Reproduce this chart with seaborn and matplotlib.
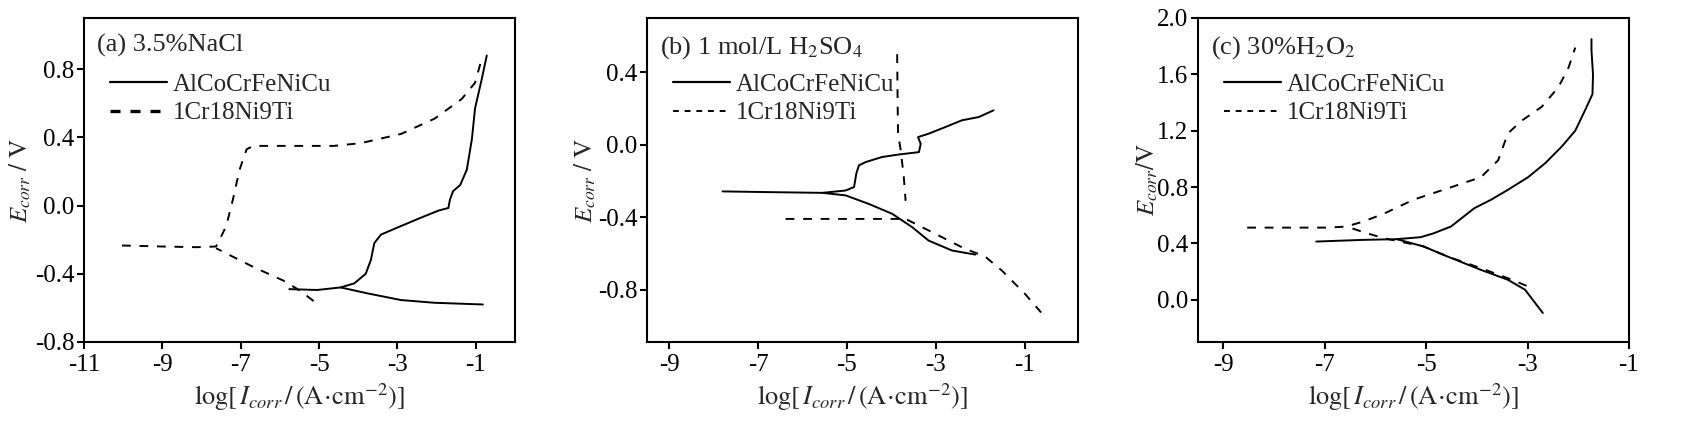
import pandas as pd
import matplotlib.pyplot as plt
import seaborn as sns
from matplotlib.lines import Line2D

# ---- data (log i, E) ----
# (a) 3.5% NaCl
a_alloy_cath_x = [-0.82, -2.05, -2.91, -3.76, -4.45]
a_alloy_cath_y = [-0.58, -0.57, -0.554, -0.515, -0.48]
a_alloy_anod_x = [-5.76, -5.05, -4.45, -4.1, -3.81, -3.68, -3.59, -3.42, -2.91, -2.39,
                  -1.96, -1.70, -1.66, -1.58, -1.40, -1.23, -1.10, -1.02, -0.85, -0.72]
a_alloy_anod_y = [-0.49, -0.495, -0.48, -0.456, -0.40, -0.32, -0.22, -0.17, -0.12, -0.07,
                  -0.03, -0.014, 0.035, 0.085, 0.12, 0.21, 0.39, 0.57, 0.74, 0.88]
a_steel_cath_x = [-5.14, -5.48, -5.91, -6.68, -7.2, -7.63]
a_steel_cath_y = [-0.56, -0.50, -0.44, -0.36, -0.30, -0.25]
a_steel_anod_x = [-10.03, -9.0, -8.14, -7.63, -7.54, -7.37, -7.2, -7.03, -6.85, -6.68,
                  -5.5, -4.62, -3.94, -2.91, -2.05, -1.36, -1.02, -0.85]
a_steel_anod_y = [-0.234, -0.24, -0.244, -0.24, -0.20, -0.12, 0.035, 0.21, 0.33, 0.35,
                  0.35, 0.35, 0.366, 0.42, 0.51, 0.625, 0.72, 0.86]

# (b) 1 mol/L H2SO4
b_alloy_cath_x = [-2.11, -2.63, -3.16, -3.53, -3.98, -4.51, -5.03, -5.55]
b_alloy_cath_y = [-0.607, -0.585, -0.53, -0.456, -0.382, -0.327, -0.28, -0.266]
b_alloy_anod_x = [-7.80, -6.75, -5.55, -5.03, -4.84, -4.79, -4.73, -4.58, -4.21, -3.83,
                  -3.38, -3.34, -3.40, -3.16, -2.78, -2.41, -2.03, -1.70]
b_alloy_anod_y = [-0.258, -0.262, -0.266, -0.253, -0.234, -0.16, -0.114, -0.096, -0.068, -0.054,
                  -0.041, 0.005, 0.042, 0.061, 0.098, 0.135, 0.153, 0.19]
b_steel_cath_x = [-6.38, -5.0, -3.83, -3.76, -3.16, -2.41, -1.88, -1.51, -0.99, -0.63]
b_steel_cath_y = [-0.41, -0.41, -0.41, -0.40, -0.474, -0.567, -0.62, -0.696, -0.825, -0.927]
b_steel_anod_x = [-3.87, -3.86, -3.85, -3.79, -3.72, -3.68]
b_steel_anod_y = [0.50, 0.25, 0.06, -0.03, -0.18, -0.31]

# (c) 30% H2O2
c_alloy_cath_x = [-2.70, -3.05, -3.39, -3.92, -4.58, -5.05, -5.58]
c_alloy_cath_y = [-0.094, 0.071, 0.142, 0.212, 0.307, 0.378, 0.43]
c_alloy_anod_x = [-7.17, -6.24, -5.58, -5.11, -4.85, -4.51, -4.05, -3.72, -3.39, -2.99,
                  -2.65, -2.32, -2.06, -1.86, -1.72, -1.71, -1.74, -1.74]
c_alloy_anod_y = [0.413, 0.425, 0.43, 0.444, 0.472, 0.52, 0.65, 0.71, 0.78, 0.87,
                  0.97, 1.09, 1.20, 1.35, 1.46, 1.60, 1.77, 1.85]
c_steel_cath_x = [-3.02, -3.39, -3.92, -4.58, -5.05, -5.84, -6.24, -6.57]
c_steel_cath_y = [0.099, 0.153, 0.224, 0.307, 0.378, 0.437, 0.48, 0.52]
c_steel_anod_x = [-8.53, -7.5, -6.91, -6.57, -6.24, -5.84, -5.25, -4.58, -3.92, -3.58,
                  -3.39, -3.12, -2.72, -2.39, -2.19, -2.06]
c_steel_anod_y = [0.512, 0.512, 0.512, 0.52, 0.555, 0.61, 0.71, 0.79, 0.87, 0.99,
                  1.18, 1.27, 1.37, 1.51, 1.65, 1.79]

alloys = ['AlCoCrFeNiCu', '1Cr18Ni9Ti']
titles = ['(a) 3.5%NaCl', r'(b) 1 mol/L H$_2$SO$_4$', r'(c) 30%H$_2$O$_2$']
ylabels = [r'$E_{corr}\ /\ \mathrm{V}$', r'$E_{corr}\ /\ \mathrm{V}$', r'$E_{corr}/\mathrm{V}$']
xlims = [(-11, 0), (-9.5, 0.2), (-9.5, -1)]
ylims = [(-0.8, 1.1), (-1.09, 0.7), (-0.3, 2.0)]
xticks = [[-11, -9, -7, -5, -3, -1], [-9, -7, -5, -3, -1], [-9, -7, -5, -3, -1]]
yticks = [[-0.8, -0.4, 0.0, 0.4, 0.8], [-0.8, -0.4, 0.0, 0.4], [0.0, 0.4, 0.8, 1.2, 1.6, 2.0]]


def build(panel):
    rows = []
    src = globals()
    for alloy, key in zip(alloys, ['alloy', 'steel']):
        for br in ['cath', 'anod']:
            xs = src[f'{panel}_{key}_{br}_x']
            ys = src[f'{panel}_{key}_{br}_y']
            for x, y in zip(xs, ys):
                rows.append({'logi': x, 'E': y, 'alloy': alloy, 'branch': f'{key}_{br}'})
    return pd.DataFrame(rows)


sns.set_style("ticks")
plt.rcParams['font.family'] = ['Liberation Serif', 'DejaVu Serif']
plt.rcParams['mathtext.fontset'] = 'stix'
plt.rcParams['axes.linewidth'] = 1.5

fig = plt.figure(figsize=(16.99, 4.26), dpi=100)
lefts = [84, 647, 1198]
ylab_x = [-0.118, -0.114, -0.088]
dash_style = {'AlCoCrFeNiCu': '', '1Cr18Ni9Ti': (4.5, 4.5)}

for i, panel in enumerate(['a', 'b', 'c']):
    ax = fig.add_axes([lefts[i] / 1699, 84 / 426, 431 / 1699, 324 / 426])
    df = build(panel)
    sns.lineplot(data=df, x='logi', y='E', style='alloy', units='branch',
                 estimator=None, sort=False, dashes=dash_style, color='black',
                 linewidth=1.4, legend=False, ax=ax)
    ax.set_xlim(*xlims[i])
    ax.set_ylim(*ylims[i])
    ax.set_xticks(xticks[i])
    ax.set_yticks(yticks[i])
    ax.set_xticklabels([str(t) for t in xticks[i]])
    ax.set_yticklabels([f'{t:.1f}' for t in yticks[i]])
    ax.tick_params(direction='out', length=5, width=1.5, labelsize=18, colors='black')
    ax.tick_params(axis='y', pad=2)
    for s in ax.spines.values():
        s.set_visible(True)
        s.set_color('black')
    ax.set_xlabel(r'$\mathrm{log}[\,I_{corr}\,/\,(\mathrm{A}\!\cdot\!\mathrm{cm}^{-2})]$',
                  fontsize=19, labelpad=4)
    ax.set_ylabel(ylabels[i], fontsize=18)
    ax.yaxis.set_label_coords(ylab_x[i], 0.5)
    ax.text(0.03, 0.95, titles[i], transform=ax.transAxes, fontsize=19,
            ha='left', va='top')
    handles = [Line2D([], [], color='black', lw=1.6, ls='-'),
               Line2D([], [], color='black', lw=2.4 if panel == 'a' else 1.4,
                      ls=(0, (3, 3)))]
    ax.legend(handles, alloys, loc='upper left', bbox_to_anchor=(0.06, 0.83),
              frameon=False, fontsize=18, handlelength=2.3, handletextpad=0.2,
              labelspacing=0.25, borderpad=0, borderaxespad=0)

fig.savefig('out.png', dpi=100)
